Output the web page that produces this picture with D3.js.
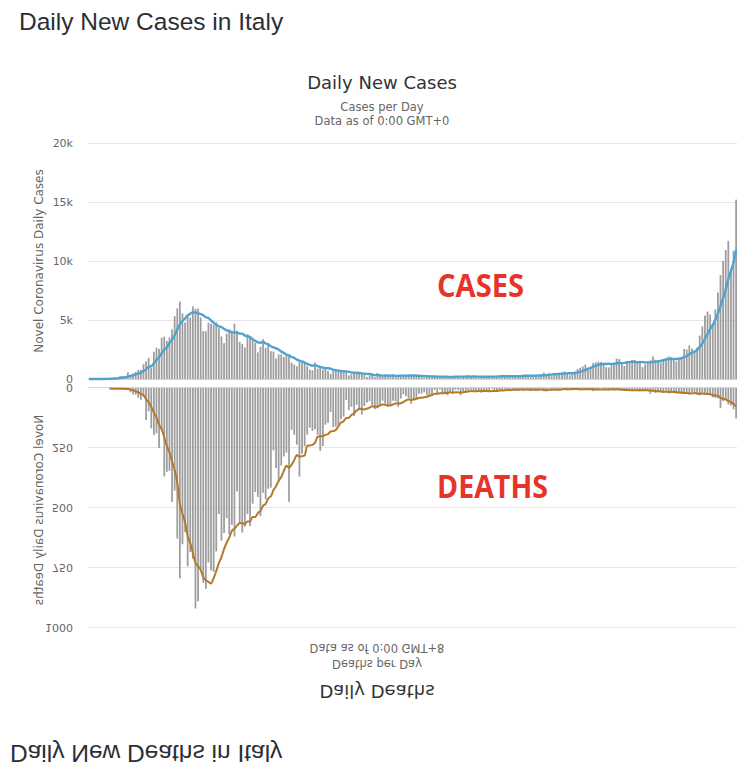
<!DOCTYPE html>
<html>
<head>
<meta charset="utf-8">
<script src="https://cdn.jsdelivr.net/npm/d3@7"></script>
<style>
  body { margin: 0; background: #fff; }
  svg { display: block; }
</style>
</head>
<body>
<div id="chart"></div>
<script>

// Italy, daily values, one entry per day starting 2020-02-15
var startDay = "2020-02-15";

var casesFeb = [0,0,0,0,0,0,17,59,78,72,93,78,250,238,240];
var casesMar = [566,342,466,587,769,778,1247,1492,1797,977,2313,2651,2547,3497,3590,3233,3526,4207,5322,5986,6557,5560,4789,5249,5210,6153,5959,5974,5217,4050,4053];
var casesApr = [4782,4668,4585,4805,4316,3599,3039,3836,4204,3951,4694,4092,3153,2972,2667,3786,3493,3491,3047,2256,2729,3370,2646,3021,2357,2324,1739,2091,2086,1872];
var casesMay = [1965,1900,1389,1221,1075,1444,1401,1327,1083,802,744,1402,888,992,789,875,675,451,813,665,642,652,669,531,300,397,584,593,516,416,355];
var casesJun = [178,318,321,177,518,270,197,280,283,202,379,163,346,338,301,210,328,331,251,262,224,218,122,190,296,259,175,174,126,142];
var casesJul = [187,201,223,235,192,208,138,193,229,276,188,234,169,114,163,230,233,249,219,190,129,282,306,252,275,255,170,181,212,289,386];
var casesAug = [379,295,239,159,190,384,402,552,347,463,259,412,481,523,574,629,479,320,403,642,845,947,1071,1210,953,878,1367,1411,1462,1444,1365];
var casesSep = [996,978,1326,1397,1733,1695,1297,1108,1370,1434,1597,1616,1501,1458,1008,1229,1452,1585,1907,1638,1587,1392,1640,1786,1912,1869,1766,1494,1648,1851];
var casesOct = [2548,2499,2844,2578,2257,2677,3678,4458,5372,5724,5456,4619,5901,7332,8804,10010,10925,11705,9338,10874,15199];

var deathsFeb = [null,null,null,null,null,null,null,null,2,4,3,2,5,4,8];
var deathsMar = [5,18,27,28,41,49,36,133,97,168,196,189,250,175,368,349,345,475,427,627,793,651,601,743,683,712,919,889,756,812,837];
var deathsApr = [727,760,766,681,525,636,604,542,610,570,619,431,566,602,578,525,575,482,433,454,534,437,464,420,415,260,333,382,323,285];
var deathsMay = [269,474,174,195,236,369,274,243,194,165,179,172,195,262,242,153,145,99,162,161,156,130,119,50,92,78,117,70,87,111,75];
var deathsJun = [60,55,71,88,85,72,53,65,79,71,53,56,78,44,26,34,43,66,47,49,24,23,18,30,34,30,8,24,6,23];
var deathsJul = [21,30,15,21,7,8,30,15,12,12,7,9,13,17,20,11,13,12,3,13,15,9,10,5,5,5,5,11,11,3,9];
var deathsAug = [3,5,12,6,10,5,3,13,13,2,4,6,10,3,3,4,4,4,6,7,3,9,3,4,4,5,13,5,9,1,4];
var deathsSep = [6,6,6,10,6,7,10,10,10,10,10,6,7,14,9,9,10,24,10,20,15,14,20,10,23,17,16,24,19,24];
var deathsOct = [23,22,27,18,16,28,31,22,28,29,26,39,41,43,83,55,47,69,73,89,127];

var casesTicks = [0, 5000, 10000, 15000, 20000];
var casesTickLabels = ["0", "5k", "10k", "15k", "20k"];
var deathsTicks = [0, 250, 500, 750, 1000];
var deathsTickLabels = ["0", "250", "500", "750", "1000"];

var cases = [].concat(casesFeb, casesMar, casesApr, casesMay, casesJun, casesJul, casesAug, casesSep, casesOct);
var deaths = [].concat(deathsFeb, deathsMar, deathsApr, deathsMay, deathsJun, deathsJul, deathsAug, deathsSep, deathsOct);

var width = 750, height = 778;
var plotLeft = 88, plotRight = 737;
var chartFont = "'DejaVu Sans', 'Lucida Grande', sans-serif";
var pageFont = "'Liberation Sans', Arial, Helvetica, sans-serif";

var day0 = d3.timeParse("%Y-%m-%d")(startDay);
var days = d3.timeDay.range(day0, d3.timeDay.offset(day0, cases.length));

var x = d3.scaleBand()
  .domain(days)
  .range([plotLeft, plotRight])
  .paddingInner(0.32);

// trailing 7 day moving average
function movingAvg(values) {
  return values.map(function (v, i) {
    if (v == null) return null;
    var win = values.slice(Math.max(0, i - 6), i + 1).filter(function (d) { return d != null; });
    return d3.mean(win);
  });
}

var svg = d3.select("#chart").append("svg")
  .attr("width", width)
  .attr("height", height);

function panel(g, p) {

  var y = d3.scaleLinear().domain([0, p.max]).range([p.zeroY, p.topY]);

  // page title
  g.append("text")
    .attr("x", p.pageTitleX)
    .attr("y", p.pageTitleY)
    .attr("font-family", pageFont)
    .attr("font-size", "24.5px")
    .attr("fill", "#2c2f37")
    .text(p.pageTitle);

  // chart title + subtitles
  g.append("text")
    .attr("x", p.centerX)
    .attr("y", p.titleY)
    .attr("text-anchor", "middle")
    .attr("font-family", chartFont)
    .attr("font-size", "18px")
    .attr("fill", "#333333")
    .text(p.title);

  p.subtitles.forEach(function (s, i) {
    g.append("text")
      .attr("x", p.centerX)
      .attr("y", p.subY[i])
      .attr("text-anchor", "middle")
      .attr("font-family", chartFont)
      .attr("font-size", "11.5px")
      .attr("fill", "#666666")
      .text(s);
  });

  // y axis with grid lines
  var axis = d3.axisLeft(y)
    .tickValues(p.ticks)
    .tickFormat(function (d, i) { return p.tickLabels[i]; })
    .tickSize(-(plotRight - plotLeft))
    .tickPadding(15);

  var ax = g.append("g")
    .attr("transform", "translate(" + plotLeft + ",0)")
    .call(axis);
  ax.select(".domain").remove();
  ax.selectAll(".tick line").attr("stroke", "#e6e6e6");
  ax.selectAll(".tick text")
    .attr("fill", "#666666")
    .attr("font-size", "11px")
    .attr("font-family", chartFont);

  // axis title
  g.append("text")
    .attr("transform", "translate(" + p.axisTitleX + "," + p.axisTitleY + ") rotate(-90)")
    .attr("text-anchor", "middle")
    .attr("dominant-baseline", "middle")
    .attr("font-family", chartFont)
    .attr("font-size", "12px")
    .attr("fill", "#666666")
    .text(p.axisTitle);

  // bars
  g.append("g").selectAll("rect")
    .data(p.values.map(function (v, i) { return { day: days[i], v: v }; }).filter(function (d) { return d.v != null; }))
    .join("rect")
    .attr("x", function (d) { return x(d.day); })
    .attr("width", x.bandwidth())
    .attr("y", function (d) { return y(d.v); })
    .attr("height", function (d) { return p.zeroY - y(d.v); })
    .attr("fill", "#9d9d9d");

  // zero axis line
  g.append("line")
    .attr("x1", plotLeft).attr("x2", plotRight)
    .attr("y1", p.zeroY + 0.5).attr("y2", p.zeroY + 0.5)
    .attr("stroke", "#ccd6eb");

  // moving average
  var avg = movingAvg(p.values).map(function (v, i) { return { day: days[i], v: v }; });
  var line = d3.line()
    .defined(function (d) { return d.v != null; })
    .x(function (d) { return x(d.day) + x.bandwidth() / 2; })
    .y(function (d) { return y(d.v); })
    .curve(d3.curveMonotoneX);

  g.append("path")
    .datum(avg)
    .attr("d", line)
    .attr("fill", "none")
    .attr("stroke", p.lineColor)
    .attr("stroke-width", p.lineWidth)
    .attr("stroke-linejoin", "round");
}

var casesPanel = svg.append("g");
panel(casesPanel, {
  values: cases, max: 20000, zeroY: 379, topY: 143,
  ticks: casesTicks, tickLabels: casesTickLabels,
  pageTitle: "Daily New Cases in Italy", pageTitleX: 19, pageTitleY: 29.5,
  title: "Daily New Cases", centerX: 382, titleY: 89,
  subtitles: ["Cases per Day", "Data as of 0:00 GMT+0"], subY: [111, 124.5],
  axisTitle: "Novel Coronavirus Daily Cases", axisTitleX: 39, axisTitleY: 261,
  lineColor: "#4fa3cf", lineWidth: 2.4
});

// the deaths chart is shown upside down under the cases chart
var deathsPanel = svg.append("g").attr("transform", "translate(0,775) scale(1,-1)");
panel(deathsPanel, {
  values: deaths, max: 1000, zeroY: 387, topY: 147,
  ticks: deathsTicks, tickLabels: deathsTickLabels,
  pageTitle: "Daily New Deaths in Italy", pageTitleX: 10, pageTitleY: 30,
  title: "Daily Deaths", centerX: 377, titleY: 90,
  subtitles: ["Deaths per Day", "Data as of 0:00 GMT+8"], subY: [115.5, 131],
  axisTitle: "Novel Coronavirus Daily Deaths", axisTitleX: 39, axisTitleY: 265,
  lineColor: "#b5792a", lineWidth: 2
});

// labels
svg.append("text")
  .attr("x", 437).attr("y", 297)
  .attr("font-family", "'Open Sans', sans-serif")
  .attr("font-weight", "bold")
  .attr("font-size", "33px")
  .attr("textLength", 87)
  .attr("lengthAdjust", "spacingAndGlyphs")
  .attr("fill", "#e5352a")
  .text("CASES");

svg.append("text")
  .attr("x", 437).attr("y", 498)
  .attr("font-family", "'Open Sans', sans-serif")
  .attr("font-weight", "bold")
  .attr("font-size", "32px")
  .attr("textLength", 111)
  .attr("lengthAdjust", "spacingAndGlyphs")
  .attr("fill", "#e5352a")
  .text("DEATHS");

</script>
</body>
</html>
